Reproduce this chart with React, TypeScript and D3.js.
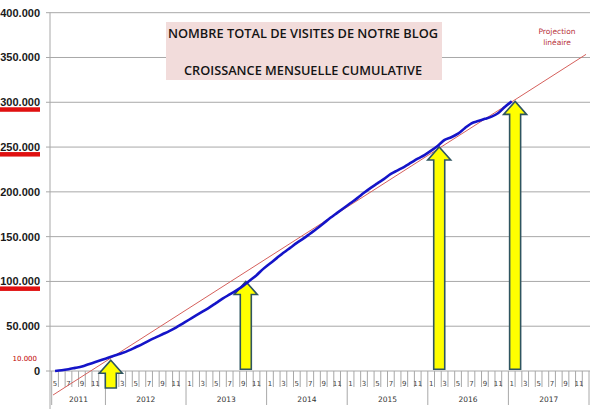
import * as d3 from "d3";

// Categories: May 2011 -> Dec 2017, one cell per month
const years = [2011, 2012, 2013, 2014, 2015, 2016, 2017];
const firstMonth = 5;

// Cumulative visits, one value per month from May 2011 to Jan 2017
const visits = [
  0, 800, 2000, 3500, 5000, 7500, 10000, 12500, 15000, 17500, 20000, 23000,
  26500, 30000, 34000, 37500, 41000, 44500, 48500, 53000, 57500, 62000, 66500,
  71000, 76000, 81000, 85500, 90000, 95000, 101000, 107000, 114000, 120000,
  126000, 132000, 137500, 143000, 148000, 153500, 159000, 165000, 171000,
  176500, 182000, 187500, 193000, 199000, 204500, 209500, 214500, 220000,
  224000, 228000, 232500, 237000, 241000, 246000, 251500, 258000, 261000,
  265000, 271000, 276500, 279000, 281500, 284000, 288000, 295000, 301000,
];

// Linear projection: [month index, value] at both ends
const trendStart = [-0.3, -26800];
const trendEnd = [79.06, 353500];

// Highlight arrows: month index, tip value, base value
const arrows = [
  { m: 8.3, tip: 12000, base: -19000 },
  { m: 28.4, tip: 100000, base: 2000 },
  { m: 57.2, tip: 250000, base: 2000 },
  { m: 68.5, tip: 301000, base: 2000 },
];

const yTicks = [0, 50000, 100000, 150000, 200000, 250000, 300000, 350000, 400000];
const underlined = [300000, 250000, 100000];

const titleLines = [
  "NOMBRE TOTAL DE VISITES DE NOTRE BLOG",
  "CROISSANCE MENSUELLE CUMULATIVE",
];

const W = 590;
const H = 409;

const App = () => {
  const months: { year: number; month: number }[] = [];
  years.forEach((yr, i) => {
    for (let mo = i === 0 ? firstMonth : 1; mo <= 12; mo++) months.push({ year: yr, month: mo });
  });

  const xb = d3.scaleLinear().domain([0, months.length]).range([51.7, 589]);
  const xc = (m: number) => xb(m + 0.5);
  const y = d3.scaleLinear().domain([0, 400000]).range([371, 12.7]);

  const fmt = (v: number) =>
    v === 0 ? "0" : d3.format(",")(v).replace(/,/g, ".");

  const line = d3
    .line<number>()
    .x((_d, i) => xc(i))
    .y((d) => y(d))
    .curve(d3.curveMonotoneX);

  const arrowPath = (cx: number, ty: number, by: number) => {
    const hw = 11.5;
    const sw = 5.5;
    const hh = 13;
    return `M${cx},${ty}L${cx + hw},${ty + hh}L${cx + sw},${ty + hh}L${cx + sw},${by}L${cx - sw},${by}L${cx - sw},${ty + hh}L${cx - hw},${ty + hh}Z`;
  };

  // first cell index of each year
  const yearStart = years.map((yr) => months.findIndex((d) => d.year === yr));

  return (
    <svg
      width={W}
      height={H}
      style={{ position: "absolute", left: 0, top: 0, background: "#fff" }}
    >
      {/* grid lines */}
      {yTicks.map((t) => (
        <line key={t} x1={46} x2={W} y1={y(t)} y2={y(t)} stroke="#a8a8a8" strokeWidth={1} />
      ))}
      <line x1={50} x2={50} y1={y(400000)} y2={H} stroke="#a8a8a8" strokeWidth={1} />

      {/* y labels */}
      {yTicks.map((t) => (
        <text
          key={t}
          x={40}
          y={y(t)}
          dy="0.36em"
          textAnchor="end"
          fontFamily="Liberation Sans, Arial, sans-serif"
          fontWeight="bold"
          fontSize={11}
          fill="#1a1a1a"
        >
          {fmt(t)}
        </text>
      ))}
      {underlined.map((t) => (
        <rect key={t} x={0} y={y(t) + 5} width={40} height={4.5} fill="#e01010" />
      ))}
      <text
        x={37}
        y={y(13500)}
        dy="0.36em"
        textAnchor="end"
        fontFamily="DejaVu Sans, sans-serif"
        fontSize={7}
        fill="#c00000"
      >
        10.000
      </text>

      {/* x axis: month ticks and labels */}
      {months.map((d, i) => (
        <line
          key={"t" + i}
          x1={xb(i)}
          x2={xb(i)}
          y1={371}
          y2={yearStart.includes(i) ? 405 : 387}
          stroke="#a8a8a8"
          strokeWidth={1}
        />
      ))}
      <line x1={xb(months.length)} x2={xb(months.length)} y1={371} y2={405} stroke="#a8a8a8" />
      {months.map((d, i) =>
        d.month % 2 === 1 ? (
          <text
            key={"m" + i}
            x={xc(i)}
            y={386}
            textAnchor="middle"
            fontFamily="DejaVu Sans, sans-serif"
            fontSize={7}
            fill="#444"
          >
            {d.month}
          </text>
        ) : null
      )}
      {years.map((yr, k) => {
        const s = yearStart[k];
        const e = k + 1 < years.length ? yearStart[k + 1] : months.length;
        return (
          <text
            key={yr}
            x={(xb(s) + xb(e)) / 2}
            y={402}
            textAnchor="middle"
            fontFamily="DejaVu Sans, sans-serif"
            fontSize={7.5}
            fill="#333"
          >
            {yr}
          </text>
        );
      })}

      {/* title box */}
      <rect x={166} y={22} width={276} height={58} fill="#f2dcdb" />
      {titleLines.map((t, i) => (
        <text
          key={t}
          x={303}
          y={i === 0 ? 37.5 : 74.5}
          textAnchor="middle"
          fontFamily="Open Sans, Lato, sans-serif"
          fontWeight={600}
          fontSize={12.5}
          fill="#141414"
          textLength={i === 0 ? 270 : 238}
          lengthAdjust="spacingAndGlyphs"
        >
          {t}
        </text>
      ))}

      {/* projection */}
      <line
        x1={xc(trendStart[0])}
        y1={y(trendStart[1])}
        x2={xc(trendEnd[0])}
        y2={y(trendEnd[1])}
        stroke="#d5605c"
        strokeWidth={1}
      />
      <text
        x={557}
        y={34}
        textAnchor="middle"
        fontFamily="DejaVu Sans, sans-serif"
        fontSize={7.5}
        fill="#b8323a"
      >
        Projection
      </text>
      <text
        x={557}
        y={44.5}
        textAnchor="middle"
        fontFamily="DejaVu Sans, sans-serif"
        fontSize={7.5}
        fill="#b8323a"
      >
        linéaire
      </text>

      {/* arrows */}
      {arrows.map((a, i) => (
        <path
          key={i}
          d={arrowPath(xc(a.m), y(a.tip), y(a.base))}
          fill="#ffff00"
          stroke="#2f5560"
          strokeWidth={1.6}
          strokeLinejoin="miter"
        />
      ))}

      {/* cumulative visits */}
      <path d={line(visits) || ""} fill="none" stroke="#1414c8" strokeWidth={2.6} />
    </svg>
  );
};

export default App;
